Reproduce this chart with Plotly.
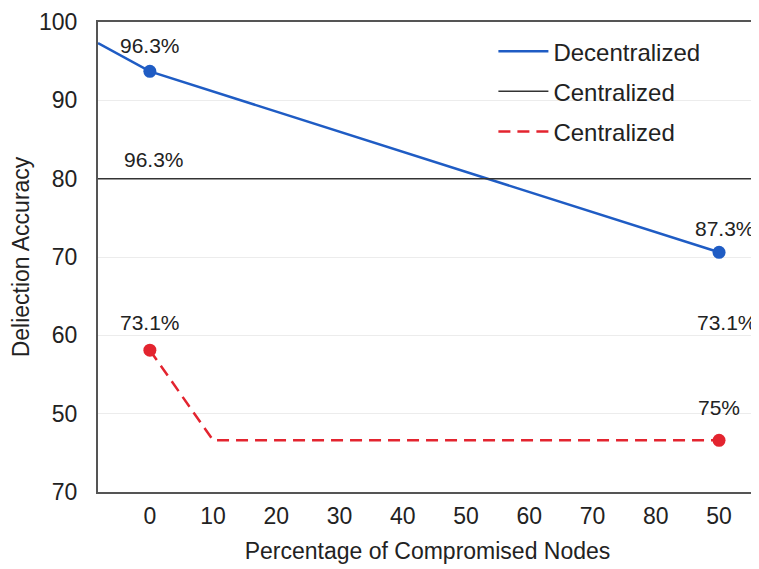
import plotly.graph_objects as go

# x positions are category slots; tick labels as printed on the original
x_tick_pos = [0, 1, 2, 3, 4, 5, 6, 7, 8, 9]
x_tick_text = ["0", "10", "20", "30", "40", "50", "60", "70", "80", "50"]
y_tick_pos = [40, 50, 60, 70, 80, 90, 100]
y_tick_text = ["70", "50", "60", "70", "80", "90", "100"]

x_left, x_right = -0.82, 9.6

dec_x = [x_left, 0, 9]
dec_y = [97.3, 93.7, 70.6]
dec_marker_x = [0, 9]
dec_marker_y = [93.7, 70.6]

cen_x = [x_left, x_right]
cen_y = [80, 80]

cen2_x = [0, 1, 9]
cen2_y = [58.1, 46.6, 46.6]
cen2_marker_x = [0, 9]
cen2_marker_y = [58.1, 46.6]

labels = [
    (0, 97.0, "96.3%"),
    (0.06, 82.5, "96.3%"),
    (9.1, 73.6, "87.3%"),
    (0, 61.6, "73.1%"),
    (9.12, 61.6, "73.1%"),
    (9.0, 50.8, "75%"),
]

BLUE = "#1f5cc4"
RED = "#e3242f"
FONT = "Liberation Sans, Arial, sans-serif"

fig = go.Figure()
fig.add_trace(go.Scatter(x=dec_x, y=dec_y, mode="lines", name="Decentralized",
                         line=dict(color=BLUE, width=2.5), legendgroup="a"))
fig.add_trace(go.Scatter(x=cen_x, y=cen_y, mode="lines", name="Centralized",
                         line=dict(color="#333333", width=1.5), legendgroup="b"))
fig.add_trace(go.Scatter(x=cen2_x, y=cen2_y, mode="lines", name="Centralized",
                         line=dict(color=RED, width=2.5, dash="12px,7px"), legendgroup="c"))
fig.add_trace(go.Scatter(x=dec_marker_x, y=dec_marker_y, mode="markers", showlegend=False,
                         marker=dict(color=BLUE, size=13)))
fig.add_trace(go.Scatter(x=cen2_marker_x, y=cen2_marker_y, mode="markers", showlegend=False,
                         marker=dict(color=RED, size=13)))

for x, y, t in labels:
    fig.add_annotation(x=x, y=y, text=t, showarrow=False,
                       font=dict(family=FONT, size=21, color="#222222"))

fig.update_layout(
    width=751, height=561,
    margin=dict(l=90, r=2, t=14, b=77),
    paper_bgcolor="white", plot_bgcolor="white",
    font=dict(family=FONT, size=23, color="#222222"),
    legend=dict(x=0.6, y=0.985, xanchor="left", yanchor="top",
                bgcolor="rgba(0,0,0,0)", font=dict(size=24),
                traceorder="grouped", tracegroupgap=6, itemwidth=50),
    xaxis=dict(range=[x_left, x_right], tickvals=x_tick_pos, ticktext=x_tick_text,
               showgrid=False, zeroline=False, showline=True, linecolor="#555555",
               linewidth=2, mirror=True, ticks="", ticklabelstandoff=2,
               automargin=False,
               title=dict(text="Percentage of Compromised Nodes",
                          font=dict(size=23))),
    yaxis=dict(range=[40, 100], tickvals=y_tick_pos, ticktext=y_tick_text,
               showgrid=True, gridcolor="#ececec", gridwidth=1, zeroline=False,
               showline=True, linecolor="#555555", linewidth=2, mirror=True,
               ticks="", ticklabelstandoff=14, automargin=False,
               title=dict(text="Deliection Accuracy", standoff=4,
                          font=dict(size=23))),
)

fig.write_html("out.html")
